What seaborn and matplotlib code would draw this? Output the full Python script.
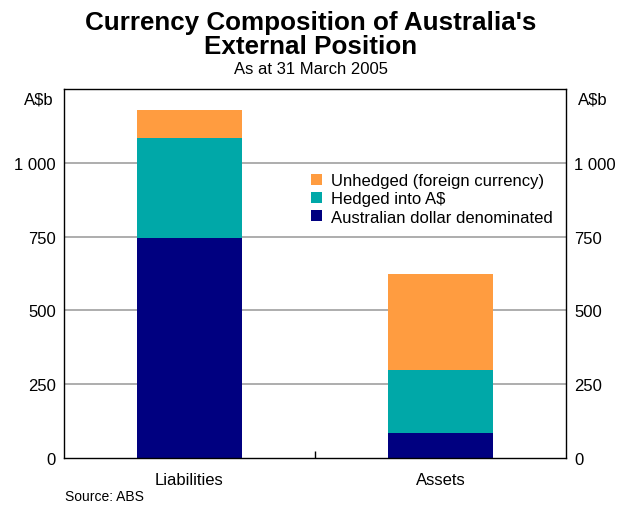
import matplotlib
matplotlib.use("Agg")
import matplotlib.pyplot as plt
import seaborn as sns
import pandas as pd
from matplotlib.patches import Patch
from matplotlib.ticker import FixedLocator

categories = ["Liabilities", "Assets"]
aud_denominated = [746, 84]
hedged = [339, 214]
unhedged = [95, 325]
series_names = ["Unhedged (foreign currency)", "Hedged into A$", "Australian dollar denominated"]
colors = ["#FF9C40", "#00A8A8", "#000080"]
yticks = [0, 250, 500, 750, 1000]
ytick_labels = ["0", "250", "500", "750", "1 000"]

sns.set_theme(style="white")
plt.rcParams["font.family"] = ["Liberation Sans", "DejaVu Sans"]
plt.rcParams["text.color"] = "black"
plt.rcParams["xtick.color"] = "black"
plt.rcParams["ytick.color"] = "black"
plt.rcParams["axes.labelcolor"] = "black"

df = pd.DataFrame({"cat": categories, "aud": aud_denominated, "hedged": hedged, "unhedged": unhedged})
df["c2"] = df["aud"] + df["hedged"]
df["c3"] = df["c2"] + df["unhedged"]

fig = plt.figure(figsize=(6.21, 5.06), dpi=100)
ax = fig.add_axes([64/621, 47/506, (566-64)/621, (459-90)/506])

for col, c in zip(["c3", "c2", "aud"], colors):
    sns.barplot(data=df, x="cat", y=col, color=c, width=0.42, ax=ax, saturation=1, edgecolor="none", linewidth=0)

ax.set_xlim(-0.5, 1.5)
ax.set_ylim(0, 1250)
ax.set_yticks(yticks)
ax.set_yticklabels(ytick_labels)
ax.set_xlabel("")
ax.set_ylabel("")
ax.set_axisbelow(True)
for y in yticks[1:]:
    ax.axhline(y, color="#A0A0A0", lw=1.2, zorder=0)
for s in ax.spines.values():
    s.set_color("black")
    s.set_linewidth(1.0)
    s.set_visible(True)
ax.tick_params(axis="y", which="major", left=False, right=False, length=0, labelleft=True, labelright=True,
               labelsize=12, pad=6, colors="black")
ax.tick_params(axis="x", which="major", bottom=False, length=0, labelsize=12, pad=10, colors="black")
ax.xaxis.set_minor_locator(FixedLocator([0.5]))
ax.tick_params(axis="x", which="minor", bottom=True, direction="in", length=5, width=1, color="black")

fig.text(39/621, 1-100/506, "A$b", ha="center", va="center", fontsize=12)
fig.text(593/621, 1-100/506, "A$b", ha="center", va="center", fontsize=12)

fig.text(0.5, 1-35/506, "Currency Composition of Australia's\nExternal Position", ha="center", va="center",
         fontsize=18.7, fontweight="bold", linespacing=0.98)
fig.text(0.5, 1-70/506, "As at 31 March 2005", ha="center", va="center", fontsize=12)
fig.text(65/621, 1-497/506, "Source: ABS", ha="left", va="center", fontsize=10)

handles = [Patch(facecolor=c, edgecolor="none") for c in colors]
leg = ax.legend(handles, series_names, loc="upper left", bbox_to_anchor=((311-64)/502, 1-(174-90)/369),
                frameon=False, fontsize=12, handlelength=0.65, handleheight=0.65, handletextpad=0.55,
                labelspacing=0.2, borderpad=0, borderaxespad=0)

fig.savefig("out.png", dpi=100)
